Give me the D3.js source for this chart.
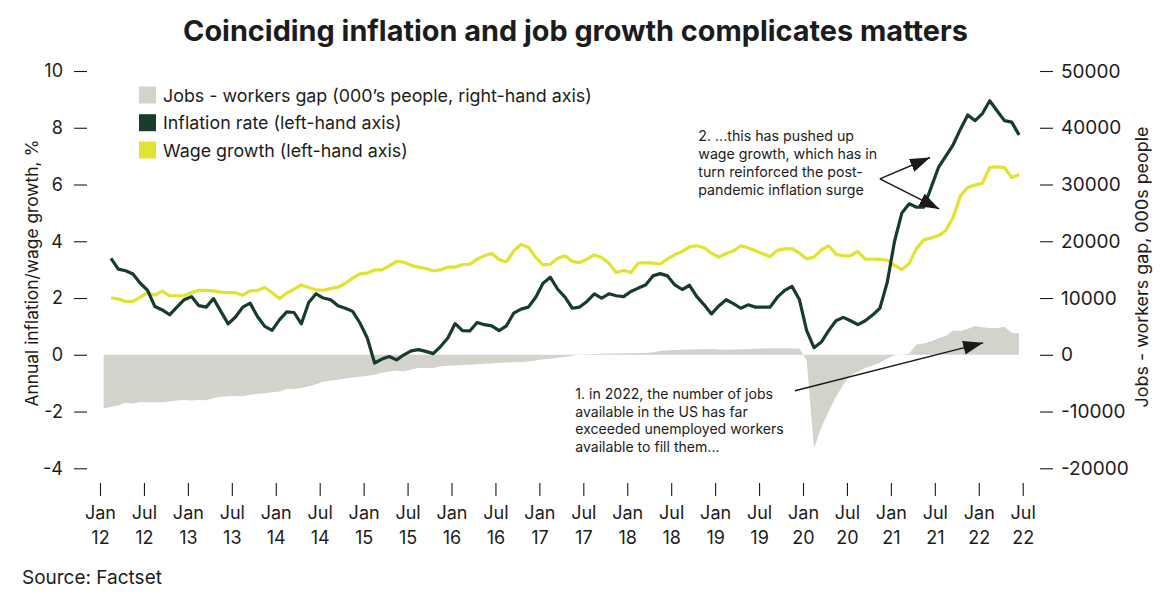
<!DOCTYPE html>
<html><head><meta charset="utf-8">
<script src="https://cdn.jsdelivr.net/npm/d3@7/dist/d3.min.js"></script>
<style>
body{margin:0;background:#fff;}
svg text{font-family:Inter,"Noto Sans",sans-serif;fill:#1c1c1c;}
</style></head><body>
<svg id="c" width="1165" height="612"></svg>
<script>
// ---------- DATA ----------
// Jobs - workers gap, 000s people, monthly from Jan 2012 (right-hand axis)
const gapStart = 0; // month index of Jan 2012
const gap = [-9450,-9200,-8900,-8450,-8600,-8300,-8350,-8350,-8350,-8250,-8050,-7950,
 -8050,-7950,-8000,-7600,-7400,-7300,-7220,-7300,-7050,-6900,-6780,-6620,
 -6450,-6050,-6050,-5850,-5550,-5200,-4750,-4540,-4420,-4200,-4000,-3850,
 -3700,-3520,-3150,-2950,-2760,-2930,-2600,-2350,-2350,-2330,-2030,-1950,
 -1880,-1820,-1760,-1680,-1590,-1530,-1460,-1380,-1300,-1250,-1180,-1020,
 -800,-700,-520,-400,-150,30,100,150,180,210,240,260,
 280,300,320,450,650,780,840,890,920,960,990,1000,
 940,890,940,990,1010,1060,1110,1150,1170,1140,1120,1100,
 -900,-16500,-12800,-10000,-7400,-5300,-3600,-3000,-2350,-1900,-1400,-700,
 -100,50,200,1800,2000,2400,2900,3300,4300,4200,4600,5050,
 4850,4700,4700,4950,3900,3800];
// Inflation rate %, monthly from Feb 2012 (left-hand axis)
const linesStart = 1; // month index of Feb 2012
const inflation = [3.40,3.02,2.96,2.85,2.52,2.27,1.70,1.58,1.41,1.68,1.94,
 2.05,1.73,1.68,1.98,1.53,1.09,1.33,1.68,1.82,1.35,1.00,0.86,
 1.23,1.51,1.49,1.09,1.84,2.15,2.00,1.94,1.73,1.64,1.53,1.12,
 0.59,-0.29,-0.15,-0.06,-0.18,0.00,0.14,0.18,0.12,0.04,0.29,0.59,
 1.10,0.85,0.84,1.14,1.06,1.02,0.85,1.02,1.47,1.61,1.68,2.03,
 2.52,2.73,2.31,2.03,1.64,1.68,1.88,2.15,2.00,2.15,2.08,2.05,
 2.23,2.35,2.46,2.78,2.86,2.78,2.46,2.30,2.45,2.05,1.76,1.44,
 1.72,1.94,1.80,1.64,1.76,1.68,1.68,1.68,2.03,2.27,2.41,1.95,
 0.85,0.25,0.45,0.85,1.20,1.32,1.20,1.06,1.20,1.40,1.64,2.55,
 4.00,5.00,5.32,5.20,5.20,5.90,6.60,7.00,7.40,7.95,8.45,8.25,
 8.50,8.95,8.60,8.25,8.20,7.75];
// Wage growth %, monthly from Feb 2012 (left-hand axis)
const wage = [2.00,1.97,1.88,1.88,2.03,2.18,2.10,2.24,2.08,2.08,2.08,
 2.19,2.27,2.27,2.25,2.21,2.19,2.19,2.10,2.25,2.27,2.37,2.19,
 1.98,2.17,2.31,2.46,2.37,2.29,2.27,2.34,2.38,2.52,2.70,2.85,
 2.88,2.99,2.99,3.13,3.29,3.26,3.15,3.09,3.04,2.96,2.99,3.09,
 3.09,3.18,3.19,3.37,3.49,3.57,3.36,3.27,3.66,3.89,3.79,3.43,
 3.17,3.19,3.40,3.49,3.29,3.25,3.37,3.52,3.43,3.23,2.90,2.97,
 2.90,3.23,3.25,3.23,3.20,3.38,3.53,3.64,3.80,3.84,3.77,3.58,
 3.44,3.57,3.66,3.84,3.77,3.67,3.56,3.46,3.68,3.73,3.74,3.58,
 3.38,3.44,3.70,3.84,3.54,3.49,3.49,3.64,3.37,3.37,3.36,3.33,
 3.15,3.00,3.22,3.75,4.05,4.12,4.20,4.38,4.85,5.60,5.90,5.98,
 6.05,6.60,6.62,6.60,6.25,6.35];
const xTickMonths = d3.range(0, 127, 6);
const monthNames = ["Jan","Jul"];
const leftTicks = [-4,-2,0,2,4,6,8,10];
const rightTicks = [-20000,-10000,0,10000,20000,30000,40000,50000];
const legendLabels = ["Jobs - workers gap (000\u2019s people, right-hand axis)","Inflation rate (left-hand axis)","Wage growth (left-hand axis)"];
const titleText = "Coinciding inflation and job growth complicates matters";
const note1 = ["1. in 2022, the number of jobs","available in the US has far","exceeded unemployed workers","available to fill them..."];
const note2 = ["2. ...this has pushed up","wage growth, which has in","turn reinforced the post-","pandemic inflation surge"];

// ---------- STYLE ----------
const C = {gap:"#d3d3cc", inf:"#183c2c", wage:"#e2e230", ink:"#1c1c1c"};
const svg = d3.select("#c");

const x = d3.scaleLinear().domain([0,126]).range([100,1022.7]);
const yL = d3.scaleLinear().domain([-4,10]).range([468.3,71]);
const yR = d3.scaleLinear().domain([-20000,50000]).range([468.3,71]);

function fit(sel, target){ // scale font-size so the text spans target width
  const n = sel.node(); const fs = parseFloat(sel.attr("font-size"));
  const w = n.getComputedTextLength(); if(w>0) sel.attr("font-size", fs*target/w);
}

// title
const t = svg.append("text").attr("x",575.5).attr("y",41).attr("text-anchor","middle")
  .attr("font-size",28).attr("font-weight",700).attr("fill","#1a1a1a").text(titleText);
fit(t,785);

// gap area
svg.append("path").datum(gap).attr("fill",C.gap)
  .attr("d", d3.area().x((d,i)=>x(gapStart+i+0.5)).y0(yR(0)).y1(d=>yR(d)));
// lines
const line = d3.line().x((d,i)=>x(linesStart+i+0.5)).y(d=>yL(d)).curve(d3.curveLinear);
svg.append("path").datum(wage).attr("fill","none").attr("stroke",C.wage).attr("stroke-width",3.2)
  .attr("stroke-linejoin","round").attr("d",line);
svg.append("path").datum(inflation).attr("fill","none").attr("stroke",C.inf).attr("stroke-width",3.2)
  .attr("stroke-linejoin","round").attr("d",line);

// axes
const gl = svg.append("g").attr("transform","translate(87,0)")
  .call(d3.axisLeft(yL).tickValues(leftTicks).tickSize(13).tickPadding(11).tickFormat(d=>String(d)));
const gr = svg.append("g").attr("transform","translate(1040,0)")
  .call(d3.axisRight(yR).tickValues(rightTicks).tickSize(13).tickPadding(8).tickFormat(d=>String(d)));
const gb = svg.append("g").attr("transform","translate(0,483)")
  .call(d3.axisBottom(x).tickValues(xTickMonths).tickSize(13).tickFormat(""));
[gl,gr,gb].forEach(g=>{
  g.select(".domain").remove();
  g.selectAll(".tick line").attr("stroke","#1a1a1a").attr("stroke-width",1.1);
  g.selectAll(".tick text").attr("font-size",18).attr("fill",C.ink)
   .attr("font-family","Inter,'Noto Sans',sans-serif");
});
gr.selectAll(".tick text").attr("font-size",19);
gb.selectAll(".tick").each(function(m){
  const g = d3.select(this);
  const yr = String(12 + Math.floor(m/12));
  const tx = g.append("text").attr("text-anchor","middle").attr("font-size",18).attr("fill",C.ink);
  tx.append("tspan").attr("x",0).attr("y",36).text(monthNames[(m%12)/6]);
  tx.append("tspan").attr("x",0).attr("y",61).text(yr);
});

// axis titles
const lt = svg.append("text").attr("transform","translate(38,273) rotate(-90)").attr("text-anchor","middle")
  .attr("font-size",18).text("Annual inflation/wage growth, %");
fit(lt,267);
const rt = svg.append("text").attr("transform","translate(1148,267) rotate(-90)").attr("text-anchor","middle")
  .attr("font-size",18).text("Jobs - workers gap, 000s people");
fit(rt,281);

// legend
const legColors = [C.gap, C.inf, C.wage];
const legY = [95,122.7,150];
let legFs = 18;
legendLabels.forEach((lab,i)=>{
  svg.append("rect").attr("x",139).attr("y",legY[i]-8.5).attr("width",17).attr("height",17).attr("fill",legColors[i]);
  const tt = svg.append("text").attr("x",163).attr("y",legY[i]+6.5).attr("font-size",legFs).text(lab);
  if(i===0){ fit(tt,429); legFs = parseFloat(tt.attr("font-size")); }
});

// annotations (positioned in data units)
function note(lines, m, v, widestIdx, target){
  const g = svg.append("text").attr("font-size",15).attr("fill",C.ink);
  const spans = lines.map((s,i)=>g.append("tspan").attr("x",x(m)).attr("y",yL(v)+i*17.8).text(s));
  const w = spans[widestIdx].node().getComputedTextLength();
  g.attr("font-size", 15*target/w);
  return g;
}
note(note1, 64.9, -1.55, 0, 198);
note(note2, 81.7, 7.52, 1, 179);

const defs = svg.append("defs");
defs.append("marker").attr("id","ah").attr("viewBox","0 0 20 14").attr("refX",20).attr("refY",7)
  .attr("markerWidth",20).attr("markerHeight",14).attr("markerUnits","userSpaceOnUse").attr("orient","auto")
  .append("path").attr("d","M0,0 L20,7 L0,14 Z").attr("fill","#1a1a1a");
function arrow(m0,v0,m1,v1){
  svg.append("line").attr("x1",x(m0)).attr("y1",yL(v0)).attr("x2",x(m1)).attr("y2",yL(v1))
    .attr("stroke","#1a1a1a").attr("stroke-width",1.5).attr("marker-end","url(#ah)");
}
arrow(94.9,-1.27,120.6,0.42);
arrow(106.5,6.2,113.35,6.95);
arrow(106.5,6.2,114.6,5.14);

// source
const src = svg.append("text").attr("x",22).attr("y",584).attr("font-size",17).text("Source: Factset");
fit(src,140);
</script></body></html>
